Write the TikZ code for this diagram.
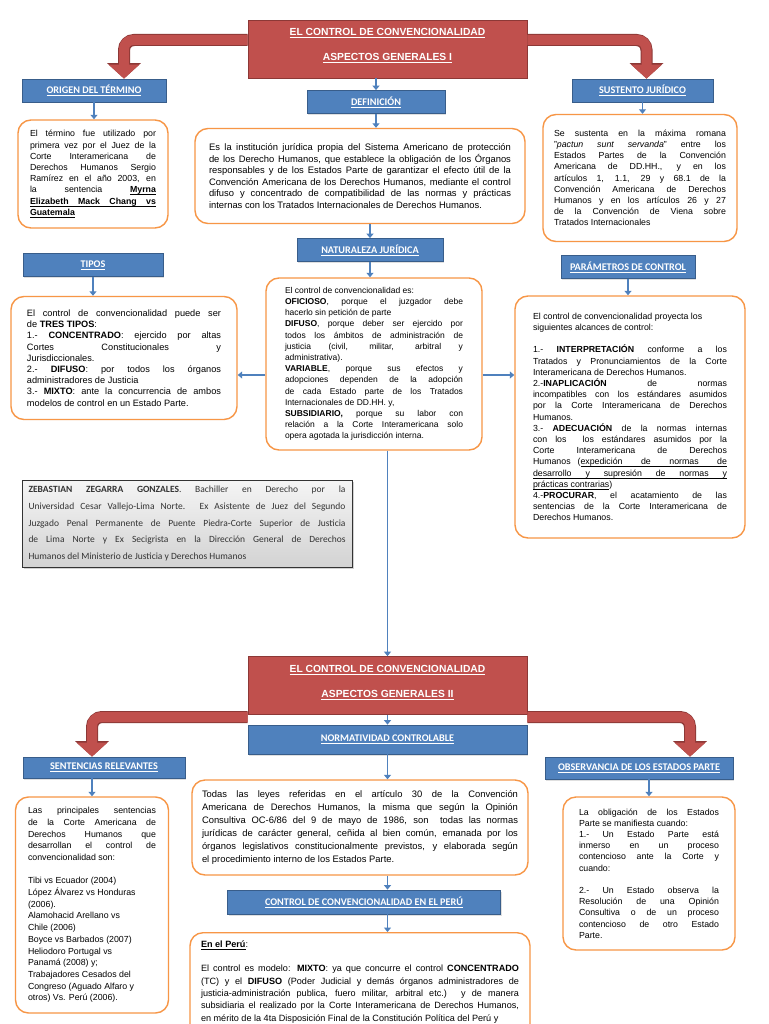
\documentclass[tikz,border=0pt]{standalone}
\usepackage{fontspec}
\setmainfont{Liberation Sans}
\newfontfamily\calibri{Carlito}
\usepackage{xcolor}
\usetikzlibrary{arrows.meta, positioning, calc, shadows}

\definecolor{rojo}{HTML}{C0504D}
\definecolor{rojoosc}{HTML}{8C3836}
\definecolor{azul}{HTML}{4F81BD}
\definecolor{azulosc}{HTML}{385D8A}
\definecolor{naranja}{HTML}{F79646}

\hyphenpenalty=10000
\exhyphenpenalty=10000
\tolerance=10000
\hbadness=10000

% subrayado propio (palabra y espacio)
\newcommand{\subr}[1]{\setbox0\hbox{#1}\rlap{\vrule height -1.5pt depth 2.2pt width \wd0}\box0}
\newcommand{\esp}{\leaders\hrule height -1.5pt depth 2.2pt\hskip 0.278em plus 0.5em minus 0.1em}

\tikzset{
  titulo/.style={draw=rojoosc, fill=rojo, line width=0.8pt, text=white,
    font=\bfseries\fontsize{10.3}{25}\selectfont, align=center,
    minimum width=279, minimum height=58},
  etiqueta/.style={draw=azulosc, fill=azul, line width=0.8pt, text=white,
    font=\calibri\bfseries\fontsize{10.2}{12}\selectfont, minimum height=23,
    drop shadow={opacity=0.25, shadow xshift=1pt, shadow yshift=-1.5pt}},
  caja/.style={draw=naranja, fill=white, line width=1.4pt, rounded corners=13pt,
    align=justify, font=\fontsize{8.8}{11.2}\selectfont},
  flecha/.style={draw=azul, line width=1.8pt, -{Triangle[width=7pt,length=4.5pt]}},
  grueso/.style={draw=rojo, line width=10pt, rounded corners=9pt,
    -{Triangle[width=30pt,length=14pt]}},
  bordegrueso/.style={draw=rojoosc, line width=12pt, rounded corners=10pt,
    -{Triangle[width=33pt,length=15.5pt]}},
}

\begin{document}
\begin{tikzpicture}[x=1pt,y=-1pt]
  \useasboundingbox (0,0) rectangle (768,1024);
  \fill[white] (0,0) rectangle (768,1024);

  % Aspectos generales I
  \node[titulo] (tituloI) at (387.5,49) {\subr{EL CONTROL DE CONVENCIONALIDAD}\\\subr{ASPECTOS GENERALES I}\\[-16pt]\mbox{}};

  \node[etiqueta, minimum width=144] (origenLbl) at (94,90.5) {\subr{ORIGEN DEL TÉRMINO}};
  \node[etiqueta, minimum width=138] (defLbl) at (376,102) {\subr{DEFINICIÓN}};
  \node[etiqueta, minimum width=141] (sustLbl) at (642.5,90.5) {\subr{SUSTENTO JURÍDICO}};

  \node[caja, minimum width=150, minimum height=108, text width=126] (origenBox) at (93,174) {%
    El término fue utilizado por\linebreak
    primera vez por el Juez de la\linebreak
    Corte Interamericana de\linebreak
    Derechos Humanos Sergio\linebreak
    Ramírez en el año 2003, en\linebreak
    la sentencia \textbf{\subr{Myrna}}\linebreak
    \textbf{\subr{Elizabeth}\esp\subr{Mack}\esp\subr{Chang}\esp\subr{vs}}\linebreak
    \textbf{\subr{Guatemala}}};

  \node[caja, minimum width=330, minimum height=95, text width=302,
    font=\fontsize{9.4}{11.6}\selectfont] (defBox) at (360,176) {%
    Es la institución jurídica propia del Sistema Americano de protección\linebreak
    de los Derecho Humanos, que establece la obligación de los Órganos\linebreak
    responsables y de los Estados Parte de garantizar el efecto útil de la\linebreak
    Convención Americana de los Derechos Humanos, mediante el control\linebreak
    difuso y concentrado de compatibilidad de las normas y prácticas\linebreak
    internas con los Tratados Internacionales de Derechos Humanos.};

  \node[caja, minimum width=194, minimum height=127, text width=172] (sustBox) at (640,178) {%
    Se sustenta en la máxima romana\linebreak
    "\textit{pactun sunt servanda}" entre los\linebreak
    Estados Partes de la Convención\linebreak
    Americana de DD.HH., y en los\linebreak
    artículos 1, 1.1, 29 y 68.1 de la\linebreak
    Convención Americana de Derechos\linebreak
    Humanos y en los artículos 26 y 27\linebreak
    de la Convención de Viena sobre\linebreak
    Tratados Internacionales};

  \node[etiqueta, minimum width=146] (natLbl) at (370,250) {\subr{NATURALEZA JURÍDICA}};
  \node[etiqueta, minimum width=140] (tiposLbl) at (93,265) {\subr{TIPOS}};
  \node[etiqueta, minimum width=134] (paramLbl) at (628,267) {\subr{PARÁMETROS DE CONTROL}};

  \node[caja, minimum width=226, minimum height=123, text width=194,
    font=\fontsize{9.2}{11.2}\selectfont] (tiposBox) at (124,358) {%
    El control de convencionalidad puede ser\linebreak
    de \textbf{TRES TIPOS}:\par
    1.- \textbf{CONCENTRADO}: ejercido por altas\linebreak
    Cortes Constitucionales y\linebreak
    Jurisdiccionales.\par
    2.- \textbf{DIFUSO}: por todos los órganos\linebreak
    administradores de Justicia\par
    3.- \textbf{MIXTO}: ante la concurrencia de ambos\linebreak
    modelos de control en un Estado Parte.};

  \node[caja, minimum width=216, minimum height=172, text width=178,
    font=\fontsize{8.5}{11.2}\selectfont] (natBox) at (374,364) {%
    El control de convencionalidad es:\par
    \textbf{OFICIOSO}, porque el juzgador debe\linebreak
    hacerlo sin petición de parte\par
    \textbf{DIFUSO}, porque deber ser ejercido por\linebreak
    todos los ámbitos de administración de\linebreak
    justicia (civil, militar, arbitral y\linebreak
    administrativa).\par
    \textbf{VARIABLE}, porque sus efectos y\linebreak
    adopciones dependen de la adopción\linebreak
    de cada Estado parte de los Tratados\linebreak
    Internacionales de DD.HH. y,\par
    \textbf{SUBSIDIARIO,} porque su labor con\linebreak
    relación a la Corte Interamericana solo\linebreak
    opera agotada la jurisdicción interna.};

  \node[caja, minimum width=230, minimum height=242, text width=194] (paramBox) at (630,417) {%
    El control de convencionalidad proyecta los\par
    siguientes alcances de control:\par\mbox{}\par
    1.- \textbf{INTERPRETACIÓN} conforme a los\linebreak
    Tratados y Pronunciamientos de la Corte\linebreak
    Interamericana de Derechos Humanos.\par
    2.-\textbf{INAPLICACIÓN} de normas\linebreak
    incompatibles con los estándares asumidos\linebreak
    por la Corte Interamericana de Derechos\linebreak
    Humanos.\par
    3.- \textbf{ADECUACIÓN} de la normas internas\linebreak
    con los\ \ los estándares asumidos por la\linebreak
    Corte Interamericana de Derechos\linebreak
    Humanos (\subr{expedición}\esp\subr{de}\esp\subr{normas}\esp\subr{de}\linebreak
    \subr{desarrollo}\esp\subr{y}\esp\subr{supresión}\esp\subr{de}\esp\subr{normas}\esp\subr{y}\linebreak
    \subr{prácticas}\esp\subr{contrarias})\par
    4.-\textbf{PROCURAR}, el acatamiento de las\linebreak
    sentencias de la Corte Interamericana de\linebreak
    Derechos Humanos.};

  \node[draw=black!80, line width=0.8pt, top color=gray!8, bottom color=gray!35,
    drop shadow={opacity=0.35, shadow xshift=2pt, shadow yshift=-2pt},
    minimum width=330, minimum height=87, text width=317, align=justify,
    text=black!80, font=\calibri\fontsize{9.5}{16.7}\selectfont] (autor) at (187,523.5) {%
    \textbf{ZEBASTIAN ZEGARRA GONZALES}. Bachiller en Derecho por la\linebreak
    Universidad Cesar Vallejo-Lima Norte. Ex Asistente de Juez del Segundo\linebreak
    Juzgado Penal Permanente de Puente Piedra-Corte Superior de Justicia\linebreak
    de Lima Norte y Ex Secigrista en la Dirección General de Derechos\linebreak
    Humanos del Ministerio de Justicia y Derechos Humanos};

  % Aspectos generales II
  \node[titulo] (tituloII) at (387.5,685.5) {\subr{EL CONTROL DE CONVENCIONALIDAD}\\\subr{ASPECTOS GENERALES II}\\[-16pt]\mbox{}};

  \node[etiqueta, minimum width=279, minimum height=29] (normLbl) at (387.5,739.5) {\subr{NORMATIVIDAD CONTROLABLE}};
  \node[etiqueta, minimum width=162, minimum height=21] (sentLbl) at (104,767.5) {\subr{SENTENCIAS RELEVANTES}};
  \node[etiqueta, minimum width=188, minimum height=22] (obsLbl) at (639,768) {\subr{OBSERVANCIA DE LOS ESTADOS PARTE}};

  \node[caja, minimum width=153, minimum height=216, text width=128,
    font=\fontsize{8.8}{11.7}\selectfont] (sentBox) at (92,905) {%
    Las principales sentencias\linebreak
    de la Corte Americana de\linebreak
    Derechos Humanos que\linebreak
    desarrollan el control de\linebreak
    convencionalidad son:\par\mbox{}\par
    Tibi vs Ecuador (2004)\par
    López Álvarez vs Honduras\par
    (2006).\par
    Alamohacid Arellano vs\par
    Chile (2006)\par
    Boyce vs Barbados (2007)\par
    Heliodoro Portugal vs\par
    Panamá (2008) y;\par
    Trabajadores Cesados del\par
    Congreso (Aguado Alfaro y\par
    otros) Vs. Perú (2006).};

  \node[caja, minimum width=336, minimum height=95, text width=316,
    font=\fontsize{9.4}{13}\selectfont] (normBox) at (360,827.5) {%
    Todas las leyes referidas en el artículo 30 de la Convención\linebreak
    Americana de Derechos Humanos, la misma que según la Opinión\linebreak
    Consultiva OC-6/86 del 9 de mayo de 1986, son\ \ todas las normas\linebreak
    jurídicas de carácter general, ceñida al bien común, emanada por los\linebreak
    órganos legislativos constitucionalmente previstos, y elaborada según\linebreak
    el procedimiento interno de los Estados Parte.};

  \node[caja, minimum width=172, minimum height=153, text width=140] (obsBox) at (649,873.5) {%
    La obligación de los Estados\linebreak
    Parte se manifiesta cuando:\par
    1.- Un Estado Parte está\linebreak
    inmerso en un proceso\linebreak
    contencioso ante la Corte y\linebreak
    cuando:\par\mbox{}\par
    2.- Un Estado observa la\linebreak
    Resolución de una Opinión\linebreak
    Consultiva o de un proceso\linebreak
    contencioso de otro Estado\linebreak
    Parte.};

  \node[etiqueta, minimum width=273, minimum height=24] (peruLbl) at (364,902) {\subr{CONTROL DE CONVENCIONALIDAD EN EL PERÚ}};

  \node[caja, anchor=north, minimum width=340, text width=318, inner ysep=8,
    font=\fontsize{9.1}{12.3}\selectfont] (peruBox) at (360,932) {%
    \textbf{\subr{En}\esp\subr{el}\esp\subr{Perú}}:\par\mbox{}\par
    El control es modelo: \textbf{MIXTO}: ya que concurre el control \textbf{CONCENTRADO}\linebreak
    (TC) y el \textbf{DIFUSO} (Poder Judicial y demás órganos administradores de\linebreak
    justicia-administración publica, fuero militar, arbitral etc.) y de manera\linebreak
    subsidiaria el realizado por la Corte Interamericana de Derechos Humanos,\linebreak
    en mérito de la 4ta Disposición Final de la Constitución Política del Perú y\par
    \vspace*{20pt}\mbox{}};

  % flechas rojas
  \foreach \capa in {bordegrueso, grueso} {
    \draw[\capa] ([yshift=9pt]tituloI.west) -| ([xshift=30pt]origenLbl.north);
    \draw[\capa] ([yshift=9pt]tituloI.east) -| ([xshift=4pt]sustLbl.north);
    \draw[\capa] ([yshift=-31.5pt]tituloII.west) -| ([xshift=-12pt]sentLbl.north);
    \draw[\capa] ([yshift=-31.5pt]tituloII.east) -| ([xshift=51pt]obsLbl.north);
  }

  % flechas azules
  \draw[flecha] (tituloI.south -| defLbl.north) -- (defLbl.north);
  \draw[flecha] (origenLbl.south) -- (origenLbl.south |- origenBox.north);
  \draw[flecha] (defLbl.south) -- (defLbl.south |- defBox.north);
  \draw[flecha] (sustLbl.south) -- (sustLbl.south |- sustBox.north);
  \draw[flecha] (natLbl.north |- defBox.south) -- (natLbl.north);
  \draw[flecha] (natLbl.south) -- (natLbl.south |- natBox.north);
  \draw[flecha] (tiposLbl.south) -- (tiposLbl.south |- tiposBox.north);
  \draw[flecha] (paramLbl.south) -- (paramLbl.south |- paramBox.north);
  \coordinate (izq) at ($(natBox.west)+(0,11)$);
  \coordinate (der) at ($(natBox.east)+(0,11)$);
  \draw[flecha] (izq) -- (izq -| tiposBox.east);
  \draw[flecha] (der) -- (der -| paramBox.west);
  \draw[flecha] (tituloII.north |- natBox.south) -- (tituloII.north);
  \draw[flecha] (tituloII.south) -- (tituloII.south |- normLbl.north);
  \draw[flecha] (normLbl.south) -- (normLbl.south |- normBox.north);
  \draw[flecha] (normLbl.south |- normBox.south) -- (normLbl.south |- peruLbl.north);
  \draw[flecha] (normLbl.south |- peruLbl.south) -- (normLbl.south |- peruBox.north);
  \draw[flecha] (sentBox.north |- sentLbl.south) -- (sentBox.north);
  \draw[flecha] (obsBox.north |- obsLbl.south) -- (obsBox.north);
\end{tikzpicture}
\end{document}
